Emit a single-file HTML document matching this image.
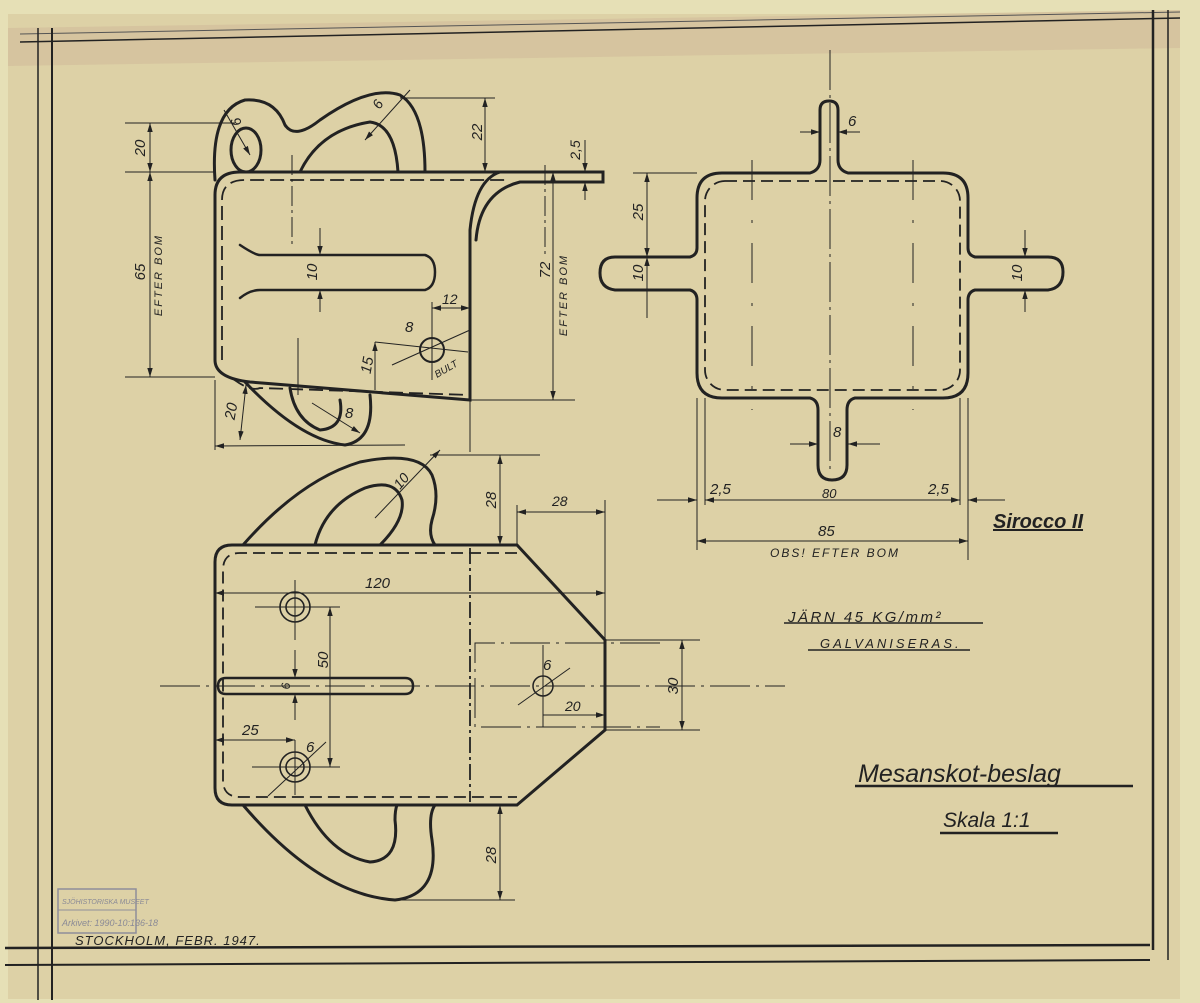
<!DOCTYPE html>
<html><head><meta charset="utf-8"><style>
html,body{margin:0;padding:0;background:#e6e0b6;}
svg{display:block}
text{font-family:"Liberation Sans",sans-serif;font-style:italic;fill:#222;}
</style></head><body>
<svg width="1200" height="1003" viewBox="0 0 1200 1003" xmlns="http://www.w3.org/2000/svg">
<defs>
<marker id="a" viewBox="0 0 10 10" refX="10" refY="5" markerWidth="9" markerHeight="9" orient="auto-start-reverse"><path d="M0,2 L10,5 L0,8 z" fill="#222"/></marker>
</defs>
<rect x="0" y="0" width="1200" height="1003" fill="#e6e0b6"/>
<rect x="8" y="14" width="1172" height="985" fill="#ddd1a6"/>
<polygon points="8,28 1180,10 1180,48 8,66" fill="#d6c49f"/>
<g stroke="#222" fill="none">
<line x1="20" y1="42" x2="1180" y2="18" stroke-width="1.5"/>
<line x1="20" y1="34" x2="1180" y2="12" stroke-width="1" stroke="#555"/>
<line x1="38" y1="28" x2="38" y2="1000" stroke-width="1.5"/>
<line x1="52" y1="28" x2="52" y2="1000" stroke-width="2"/>
<line x1="1153" y1="10" x2="1153" y2="950" stroke-width="2.5"/>
<line x1="1168" y1="10" x2="1168" y2="960" stroke-width="1.5"/>
<line x1="5" y1="948" x2="1150" y2="945" stroke-width="2.5"/>
<line x1="5" y1="965" x2="1150" y2="960" stroke-width="2"/>
</g>

<!-- TOP-LEFT VIEW -->
<g stroke="#222" fill="none" stroke-width="3" stroke-linecap="round">
<path d="M215,360 L215,195 Q215,172 240,172 L500,172 Q475,180 470,230 L470,400 L250,382 Q215,378 215,360"/>
<path d="M500,172 L603,172 L603,182 L520,182 Q480,192 476,240"/>
<path d="M215,180 Q210,110 245,100 Q275,98 285,125 Q295,140 320,120 Q370,85 400,95 Q425,110 425,172"/>
<ellipse cx="246" cy="150" rx="15" ry="22"/>
<path d="M300,172 Q320,130 370,122 Q395,125 398,172"/>
<path d="M245,382 Q300,440 345,445 Q375,440 370,395"/>
<path d="M290,388 Q295,420 320,430 Q345,428 340,400"/>
<path d="M240,245 Q255,255 260,255 L425,255 Q435,258 435,272 Q435,287 425,290 L260,290 Q250,290 240,298" stroke-width="2.5"/>
<circle cx="432" cy="350" r="12" stroke-width="2"/>
</g>
<g stroke="#222" fill="none" stroke-width="1.8" stroke-dasharray="14,6">
<path d="M222,360 L222,200 Q222,180 245,180 L505,180"/>
<path d="M232,378 Q250,392 260,388 L470,395" />
</g>
<g stroke="#222" fill="none" stroke-width="1">
<line x1="125" y1="123" x2="235" y2="123"/><line x1="125" y1="172" x2="215" y2="172"/><line x1="125" y1="377" x2="215" y2="377"/>
<line x1="150" y1="123" x2="150" y2="172" marker-start="url(#a)" marker-end="url(#a)"/>
<line x1="150" y1="172" x2="150" y2="377" marker-start="url(#a)" marker-end="url(#a)"/>
<line x1="400" y1="98" x2="495" y2="98"/>
<line x1="485" y1="98" x2="485" y2="172" marker-start="url(#a)" marker-end="url(#a)"/>
<line x1="553" y1="172" x2="553" y2="400" marker-start="url(#a)" marker-end="url(#a)"/>
<line x1="470" y1="400" x2="575" y2="400"/>
<line x1="545" y1="165" x2="545" y2="255" stroke-dasharray="20,4,3,4"/>
<line x1="585" y1="140" x2="585" y2="172" marker-end="url(#a)"/>
<line x1="585" y1="200" x2="585" y2="182" marker-end="url(#a)"/>
<line x1="320" y1="228" x2="320" y2="255" marker-end="url(#a)"/>
<line x1="320" y1="312" x2="320" y2="290" marker-end="url(#a)"/>
<line x1="432" y1="308" x2="470" y2="308" marker-start="url(#a)" marker-end="url(#a)"/>
<line x1="432" y1="302" x2="432" y2="380"/>
<line x1="392" y1="365" x2="470" y2="330"/>
<line x1="375" y1="342" x2="468" y2="352"/>
<line x1="375" y1="342" x2="375" y2="390" marker-start="url(#a)"/>
<line x1="292" y1="155" x2="292" y2="245" stroke-dasharray="20,4,3,4"/>
<line x1="298" y1="338" x2="298" y2="395"/>
<line x1="215" y1="380" x2="215" y2="450"/>
<line x1="215" y1="446" x2="405" y2="445" marker-start="url(#a)"/>
<line x1="246" y1="385" x2="240" y2="440" marker-start="url(#a)" marker-end="url(#a)"/>
<line x1="312" y1="403" x2="360" y2="433" marker-end="url(#a)"/>
<line x1="224" y1="110" x2="250" y2="155" marker-end="url(#a)"/>
<line x1="365" y1="140" x2="410" y2="90" marker-start="url(#a)"/>
<line x1="470" y1="400" x2="470" y2="452"/>
</g>
<g font-size="15">
<text x="0" y="0" transform="translate(145,148) rotate(-90)" text-anchor="middle">20</text>
<text x="0" y="0" transform="translate(145,272) rotate(-90)" text-anchor="middle">65</text>
<text x="0" y="0" transform="translate(162,275) rotate(-90)" text-anchor="middle" font-size="11" letter-spacing="2">EFTER BOM</text>
<text x="0" y="0" transform="translate(482,132) rotate(-90)" text-anchor="middle">22</text>
<text x="0" y="0" transform="translate(580,150) rotate(-90)" text-anchor="middle" font-size="14">2,5</text>
<text x="0" y="0" transform="translate(550,270) rotate(-90)" text-anchor="middle">72</text>
<text x="0" y="0" transform="translate(567,295) rotate(-90)" text-anchor="middle" font-size="11" letter-spacing="2">EFTER BOM</text>
<text x="0" y="0" transform="translate(317,272) rotate(-90)" text-anchor="middle">10</text>
<text x="442" y="304" font-size="14">12</text>
<text x="405" y="332">8</text>
<text x="437" y="378" font-size="10" transform="rotate(-30 437 378)">BULT</text>
<text x="0" y="0" transform="translate(372,366) rotate(-80)" text-anchor="middle">15</text>
<text x="0" y="0" transform="translate(236,412) rotate(-80)" text-anchor="middle">20</text>
<text x="345" y="418">8</text>
<text x="0" y="0" transform="translate(242,124) rotate(-110)" font-size="14">6</text>
<text x="0" y="0" transform="translate(380,110) rotate(-60)" font-size="14">6</text>
</g>

<!-- RIGHT VIEW -->
<g stroke="#222" fill="none" stroke-width="3">
<path d="M722,173 L810,173 Q820,170 820,160 L820,110 Q820,101 829,101 Q838,101 838,110 L838,160 Q838,170 848,173 L943,173 Q968,173 968,198 L968,248 Q968,255 975,257 L1048,257 Q1063,257 1063,272 Q1063,288 1048,290 L975,290 Q968,292 968,300 L968,373 Q968,398 943,398 L855,398 Q847,400 847,410 L847,465 Q847,480 832,480 Q818,480 818,465 L818,410 Q818,400 810,398 L722,398 Q697,398 697,373 L697,300 Q697,292 690,290 L615,290 Q600,288 600,273 Q600,257 615,257 L690,257 Q697,255 697,248 L697,198 Q697,173 722,173 Z"/>
</g>
<g stroke="#222" fill="none" stroke-width="1.8" stroke-dasharray="12,6">
<rect x="705" y="181" width="255" height="209" rx="20"/>
</g>
<g stroke="#222" fill="none" stroke-width="1">
<line x1="830" y1="50" x2="830" y2="470" stroke-dasharray="40,5,3,5"/>
<line x1="752" y1="160" x2="752" y2="410" stroke-dasharray="40,20,3,20"/>
<line x1="913" y1="160" x2="913" y2="410" stroke-dasharray="40,20,3,20"/>
<line x1="800" y1="132" x2="820" y2="132" marker-end="url(#a)"/><line x1="860" y1="132" x2="838" y2="132" marker-end="url(#a)"/>
<line x1="790" y1="444" x2="818" y2="444" marker-end="url(#a)"/><line x1="880" y1="444" x2="848" y2="444" marker-end="url(#a)"/>
<line x1="633" y1="173" x2="697" y2="173"/>
<line x1="647" y1="173" x2="647" y2="257" marker-start="url(#a)" marker-end="url(#a)"/>
<line x1="647" y1="257" x2="647" y2="318" marker-start="url(#a)"/>
<line x1="1025" y1="230" x2="1025" y2="257" marker-end="url(#a)"/>
<line x1="1025" y1="312" x2="1025" y2="290" marker-end="url(#a)"/>
<line x1="697" y1="398" x2="697" y2="550"/><line x1="705" y1="398" x2="705" y2="505"/>
<line x1="960" y1="398" x2="960" y2="505"/><line x1="968" y1="398" x2="968" y2="560"/>
<line x1="657" y1="500" x2="697" y2="500" marker-end="url(#a)"/>
<line x1="705" y1="500" x2="960" y2="500" marker-start="url(#a)" marker-end="url(#a)"/>
<line x1="1005" y1="500" x2="968" y2="500" marker-end="url(#a)"/>
<line x1="697" y1="541" x2="968" y2="541" marker-start="url(#a)" marker-end="url(#a)"/>
</g>
<g font-size="15">
<text x="848" y="126">6</text>
<text x="833" y="437">8</text>
<text x="0" y="0" transform="translate(643,212) rotate(-90)" text-anchor="middle">25</text>
<text x="0" y="0" transform="translate(643,273) rotate(-90)" text-anchor="middle">10</text>
<text x="0" y="0" transform="translate(1022,273) rotate(-90)" text-anchor="middle">10</text>
<text x="710" y="494">2,5</text>
<text x="822" y="498" font-size="13">80</text>
<text x="928" y="494">2,5</text>
<text x="818" y="536">85</text>
<text x="770" y="557" font-size="12" letter-spacing="2">OBS! EFTER BOM</text>
<text x="993" y="528" font-size="20" font-weight="bold" text-decoration="underline">Sirocco II</text>
</g>

<!-- BOTTOM VIEW -->
<g stroke="#222" fill="none" stroke-width="3">
<path d="M232,545 L517,545 L605,640 L605,730 L517,805 L232,805 Q215,805 215,788 L215,562 Q215,545 232,545 Z"/>
<path d="M243,545 Q300,480 360,462 Q420,450 432,475 Q440,495 432,520 Q428,535 435,545"/>
<path d="M315,545 Q325,505 365,488 Q395,478 402,500 Q405,520 380,545"/>
<path d="M243,805 Q320,895 395,900 Q440,895 432,840 Q428,815 435,805"/>
<path d="M305,805 Q330,855 370,862 Q400,860 395,820 Q395,810 397,805"/>
<path d="M226,678 L405,678 Q413,678 413,686 Q413,694 405,694 L226,694 Q218,694 218,686 Q218,678 226,678 Z" stroke-width="2.5"/>
</g>
<g stroke="#222" fill="none" stroke-width="1.8">
<line x1="470" y1="548" x2="470" y2="802" stroke-dasharray="16,4,3,4"/>
<path d="M517,553 L240,553 Q223,553 223,570 L223,780 Q223,797 240,797 L517,797" stroke-dasharray="12,6"/>
<circle cx="295" cy="607" r="15" stroke-width="1.6"/><circle cx="295" cy="607" r="9" stroke-width="1.6"/>
<circle cx="295" cy="767" r="15" stroke-width="1.6"/><circle cx="295" cy="767" r="9" stroke-width="1.6"/>
<circle cx="543" cy="686" r="10" stroke-width="1.5"/>
</g>
<g stroke="#222" fill="none" stroke-width="1">
<line x1="160" y1="686" x2="785" y2="686" stroke-dasharray="40,6,3,6"/>
<path d="M660,643 L475,643 L475,727 L660,727" stroke-dasharray="40,6,3,6"/>
<line x1="255" y1="607" x2="340" y2="607"/><line x1="295" y1="580" x2="295" y2="640"/>
<line x1="252" y1="767" x2="340" y2="767"/><line x1="295" y1="740" x2="295" y2="795"/>
<line x1="330" y1="607" x2="330" y2="767" marker-start="url(#a)" marker-end="url(#a)"/>
<line x1="295" y1="650" x2="295" y2="678" marker-end="url(#a)"/>
<line x1="295" y1="720" x2="295" y2="694" marker-end="url(#a)"/>
<line x1="215" y1="740" x2="295" y2="740" marker-start="url(#a)" marker-end="url(#a)"/>
<line x1="268" y1="796" x2="326" y2="742"/>
<line x1="215" y1="593" x2="605" y2="593" marker-start="url(#a)" marker-end="url(#a)"/>
<line x1="605" y1="500" x2="605" y2="640"/>
<line x1="517" y1="505" x2="517" y2="545"/>
<line x1="517" y1="512" x2="605" y2="512" marker-start="url(#a)" marker-end="url(#a)"/>
<line x1="430" y1="455" x2="540" y2="455"/>
<line x1="500" y1="455" x2="500" y2="545" marker-start="url(#a)" marker-end="url(#a)"/>
<line x1="500" y1="805" x2="500" y2="900" marker-start="url(#a)" marker-end="url(#a)"/>
<line x1="395" y1="900" x2="515" y2="900"/>
<line x1="605" y1="640" x2="700" y2="640"/><line x1="605" y1="730" x2="700" y2="730"/>
<line x1="682" y1="640" x2="682" y2="730" marker-start="url(#a)" marker-end="url(#a)"/>
<line x1="543" y1="645" x2="543" y2="727"/>
<line x1="543" y1="715" x2="605" y2="715" marker-end="url(#a)"/>
<line x1="518" y1="705" x2="570" y2="668"/>
<line x1="375" y1="518" x2="440" y2="450" marker-end="url(#a)"/>
</g>
<g font-size="15">
<text x="0" y="0" transform="translate(496,500) rotate(-90)" text-anchor="middle">28</text>
<text x="552" y="506" font-size="14">28</text>
<text x="0" y="0" transform="translate(496,855) rotate(-90)" text-anchor="middle">28</text>
<text x="365" y="588">120</text>
<text x="0" y="0" transform="translate(328,660) rotate(-90)" text-anchor="middle">50</text>
<text x="0" y="0" transform="translate(290,686) rotate(-90)" text-anchor="middle" font-size="12">6</text>
<text x="242" y="735">25</text>
<text x="306" y="752">6</text>
<text x="543" y="670">6</text>
<text x="565" y="711" font-size="14">20</text>
<text x="0" y="0" transform="translate(678,686) rotate(-90)" text-anchor="middle">30</text>
<text x="0" y="0" transform="translate(400,490) rotate(-50)" font-size="14">10</text>
</g>

<g>
<text x="788" y="622" font-size="15" letter-spacing="2.5">JÄRN  45 KG/mm²</text>
<line x1="784" y1="623" x2="983" y2="623" stroke="#222" stroke-width="1.5"/>
<text x="820" y="648" font-size="13" letter-spacing="3">GALVANISERAS.</text>
<line x1="808" y1="650" x2="970" y2="650" stroke="#222" stroke-width="1.5"/>
<text x="858" y="782" font-size="25">Mesanskot-beslag</text>
<line x1="855" y1="786" x2="1133" y2="786" stroke="#222" stroke-width="2.5"/>
<text x="943" y="827" font-size="21">Skala 1:1</text>
<line x1="940" y1="833" x2="1058" y2="833" stroke="#222" stroke-width="2.5"/>
<text x="75" y="945" font-size="13" letter-spacing="1">STOCKHOLM, FEBR. 1947.</text>
<rect x="58" y="889" width="78" height="44" fill="none" stroke="#8f8e9a" stroke-width="1.5"/>
<line x1="58" y1="910" x2="136" y2="910" stroke="#8f8e9a"/>
<text x="62" y="904" font-size="7" font-style="normal" style="fill:#8a8a96">SJÖHISTORISKA MUSEET</text>
<text x="62" y="926" font-size="9" font-style="normal" style="fill:#8a8a96">Arkivet: 1990-10:136-18</text>
</g>
</svg>
</body></html>
